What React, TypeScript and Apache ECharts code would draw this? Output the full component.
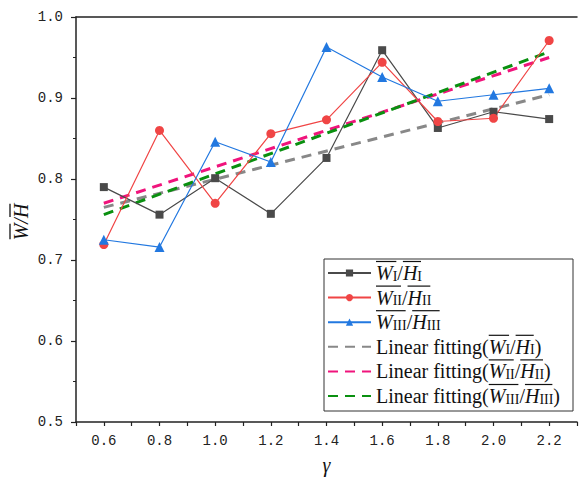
import React, { useEffect, useRef } from "react";
import * as echarts from "echarts";

// γ values and the mean width/height ratios of the three groups
const gammaValues = [0.6, 0.8, 1.0, 1.2, 1.4, 1.6, 1.8, 2.0, 2.2];
const ratioI = [0.790, 0.756, 0.801, 0.757, 0.826, 0.959, 0.863, 0.883, 0.874];
const ratioII = [0.719, 0.860, 0.770, 0.856, 0.873, 0.944, 0.871, 0.875, 0.971];
const ratioIII = [0.725, 0.716, 0.846, 0.821, 0.963, 0.926, 0.896, 0.904, 0.912];

// end points of the linear fits
const fitGamma = [0.6, 2.2];
const fitI = [0.765, 0.904];
const fitII = [0.770, 0.950];
const fitIII = [0.756, 0.957];

const groupSubs = ["I", "II", "III"];
const yTicks = [0.5, 0.6, 0.7, 0.8, 0.9, 1.0];

const SERIF = '"Liberation Serif", "Times New Roman", serif';
const MONO = '"Liberation Mono", monospace';

const ratioName = (s: string) => `W${s}/H${s}`;
const fitName = (s: string) => `Linear fitting(W${s}/H${s})`;
const ratioRich = (s: string) => `{v|W}{s|${s}}{t|/}{v|H}{s|${s}}`;

function textWidth(text: string, font: string): number {
  const ctx = document.createElement("canvas").getContext("2d");
  if (!ctx) return text.length * 10;
  ctx.font = font;
  return ctx.measureText(text).width;
}

export default function App() {
  const ref = useRef<HTMLDivElement>(null);

  useEffect(() => {
    if (!ref.current) return;
    const chart = echarts.init(ref.current, undefined, { renderer: "svg" });

    const bigItalic = `italic 20px ${SERIF}`;
    const bigRoman = `20px ${SERIF}`;
    const subSize = 14;
    const subFont = `${subSize}px ${SERIF}`;

    const richMap: Record<string, string> = {};
    groupSubs.forEach((s) => {
      richMap[ratioName(s)] = ratioRich(s);
      richMap[fitName(s)] = `{t|Linear fitting(}${ratioRich(s)}{t|)}`;
    });

    // legend geometry
    const legendLeft = 327;
    const legendTop = 263;
    const itemWidth = 43;
    const rowH = 20;
    const rowGap = 4.6;
    const textX = legendLeft + itemWidth + 5;

    const legendOrder = [
      ...groupSubs.map(ratioName),
      ...groupSubs.map(fitName),
    ];

    const overlines: any[] = [];
    legendOrder.forEach((name, i) => {
      const s = groupSubs[i % 3];
      const isFit = i >= 3;
      const cy = legendTop + i * (rowH + rowGap) + rowH / 2;
      const y = cy - 11.5;
      const x0 = textX + (isFit ? textWidth("Linear fitting(", bigRoman) : 0);
      const wW = textWidth("W", bigItalic);
      const wH = textWidth("H", bigItalic);
      const wS = textWidth(s, subFont);
      const wSl = textWidth("/", bigRoman);
      overlines.push({
        type: "line",
        z: 10,
        shape: { x1: x0 + 1, y1: y, x2: x0 + wW + wS, y2: y },
        style: { stroke: "#111", lineWidth: 1.2 },
      });
      const x1 = x0 + wW + wS + wSl;
      overlines.push({
        type: "line",
        z: 10,
        shape: { x1: x1 + 1, y1: y, x2: x1 + wH + wS, y2: y },
        style: { stroke: "#111", lineWidth: 1.2 },
      });
    });

    // rotated y-axis title with overlines
    const yW = textWidth("W", bigItalic);
    const ySl = textWidth("/", bigItalic);
    const yH = textWidth("H", bigItalic);
    const yTot = yW + ySl + yH;
    const yTitle = {
      type: "group",
      x: 21,
      y: 222,
      rotation: Math.PI / 2,
      children: [
        {
          type: "text",
          style: {
            text: "W/H",
            x: 0,
            y: 0,
            align: "center",
            verticalAlign: "middle",
            font: bigItalic,
            fill: "#111",
          },
        },
        {
          type: "line",
          shape: { x1: -yTot / 2 + 1, y1: -11, x2: -yTot / 2 + yW, y2: -11 },
          style: { stroke: "#111", lineWidth: 1.3 },
        },
        {
          type: "line",
          shape: { x1: -yTot / 2 + yW + ySl + 1, y1: -11, x2: yTot / 2, y2: -11 },
          style: { stroke: "#111", lineWidth: 1.3 },
        },
      ],
    };

    const axisColor = "#222";
    const pointSeries = (
      name: string,
      values: number[],
      color: string,
      symbol: string,
      size: number
    ) => ({
      name,
      type: "line",
      data: gammaValues.map((g, i) => [g, values[i]]),
      symbol,
      symbolSize: size,
      z: 3,
      lineStyle: { color, width: 1.2 },
      itemStyle: { color },
    });
    const fitSeries = (name: string, values: number[], color: string) => ({
      name,
      type: "line",
      data: fitGamma.map((g, i) => [g, values[i]]),
      symbol: "none",
      z: 2,
      lineStyle: { color, width: 3, type: [10, 7] },
      // transparent item colour keeps the legend icon to the dashed line only
      itemStyle: { color: "rgba(0,0,0,0)" },
    });

    chart.setOption({
      animation: false,
      backgroundColor: "#fff",
      grid: { left: 76, right: 0, top: 17, bottom: 62 },
      xAxis: [
        {
          type: "value",
          min: 0.5,
          max: 2.3,
          interval: 0.1,
          name: "γ",
          nameLocation: "middle",
          nameGap: 33,
          nameTextStyle: { fontFamily: SERIF, fontStyle: "italic", fontSize: 20, color: "#111" },
          axisLine: { show: true, lineStyle: { color: axisColor, width: 1.5 } },
          axisTick: { show: true, inside: false, length: 4, lineStyle: { color: axisColor, width: 1.2 } },
          axisLabel: {
            margin: 12,
            fontFamily: MONO,
            fontSize: 14,
            color: "#222",
            formatter: (v: number) => (Math.round(v * 10) % 2 === 0 ? v.toFixed(1) : ""),
          },
          splitLine: { show: false },
        },
        {
          type: "value",
          position: "top",
          min: 0.5,
          max: 2.3,
          interval: 0.1,
          axisLine: { show: true, lineStyle: { color: axisColor, width: 1.5 } },
          axisTick: { show: false },
          axisLabel: { show: false },
          splitLine: { show: false },
        },
      ],
      yAxis: {
        type: "value",
        min: yTicks[0],
        max: yTicks[yTicks.length - 1],
        interval: 0.1,
        axisLine: { show: true, lineStyle: { color: axisColor, width: 1.5 } },
        axisTick: { show: true, inside: false, length: 5, lineStyle: { color: axisColor, width: 1.2 } },
        minorTick: { show: true, splitNumber: 2, length: 3, lineStyle: { color: axisColor, width: 1 } },
        axisLabel: {
          margin: 13,
          fontFamily: MONO,
          fontSize: 14,
          color: "#222",
          formatter: (v: number) => v.toFixed(1),
        },
        splitLine: { show: false },
      },
      legend: {
        orient: "vertical",
        left: legendLeft,
        top: legendTop,
        padding: 0,
        itemGap: rowGap,
        itemWidth,
        itemHeight: 9,
        data: legendOrder,
        formatter: (name: string) => richMap[name] || name,
        textStyle: {
          color: "#111",
          rich: {
            v: { fontFamily: SERIF, fontStyle: "italic", fontSize: 20, lineHeight: rowH, color: "#111" },
            s: { fontFamily: SERIF, fontSize: subSize, lineHeight: 17, verticalAlign: "bottom", color: "#111" },
            t: { fontFamily: SERIF, fontSize: 20, lineHeight: rowH, color: "#111" },
          },
        },
      },
      graphic: [
        {
          type: "rect",
          z: 3,
          shape: { x: 324, y: 259, width: 249, height: 152 },
          style: { fill: "#fff", stroke: "#333", lineWidth: 1 },
        },
        ...overlines,
        yTitle,
      ],
      series: [
        fitSeries(fitName("I"), fitI, "#888888"),
        fitSeries(fitName("II"), fitII, "#f0147c"),
        fitSeries(fitName("III"), fitIII, "#0a9010"),
        pointSeries(ratioName("I"), ratioI, "#4a4a4a", "rect", 8),
        pointSeries(ratioName("II"), ratioII, "#f04545", "circle", 9),
        pointSeries(ratioName("III"), ratioIII, "#2278e0", "triangle", 10),
      ],
    });

    return () => chart.dispose();
  }, []);

  return (
    <div
      ref={ref}
      style={{ position: "fixed", left: 0, top: 0, width: 580, height: 484, background: "#fff" }}
    />
  );
}
